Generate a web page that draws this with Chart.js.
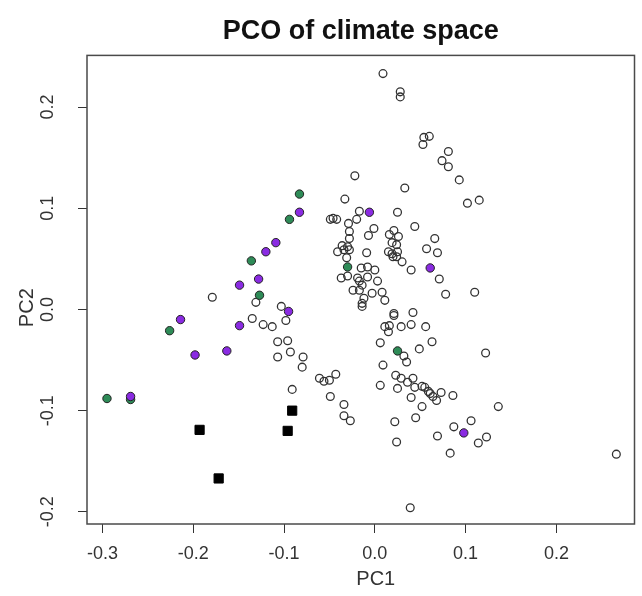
<!DOCTYPE html>
<html>
<head>
<meta charset="utf-8">
<script src="https://cdn.jsdelivr.net/npm/chart.js@4/dist/chart.umd.min.js"></script>
<style>
  html, body { margin: 0; padding: 0; background: #fff; }
  #wrap { width: 642px; height: 596px; position: relative; }
</style>
</head>
<body>
<div id="wrap"><canvas id="c" width="642" height="596"></canvas></div>
<script>
// ---- Data (PC1, PC2) ----
const openX = [0.009,0.028,0.028,0.054,0.060,0.053,0.081,0.074,0.081,0.093,-0.022,0.033,-0.033,0.102,0.115,-0.017,0.025,-0.049,-0.046,-0.042,-0.029,-0.020,-0.001,0.021,0.044,-0.007,-0.028,-0.028,0.016,0.026,0.019,0.024,0.066,-0.036,-0.030,-0.028,-0.034,-0.041,-0.009,0.015,0.019,0.025,0.020,0.024,0.057,0.069,0.030,0.040,-0.031,-0.015,-0.008,0.000,-0.037,-0.030,-0.019,-0.017,-0.008,0.003,0.071,0.110,0.078,-0.024,-0.017,-0.014,-0.003,0.008,0.011,-0.012,-0.014,-0.014,0.021,0.021,0.042,0.011,0.016,0.015,0.029,0.040,0.056,0.006,0.032,0.035,0.049,0.063,0.122,0.009,0.023,0.029,0.036,0.042,0.006,0.025,0.044,0.052,0.055,0.059,0.061,0.064,0.068,0.073,0.086,0.040,0.052,0.045,0.022,0.024,0.087,0.106,0.069,0.083,0.114,0.123,0.136,0.039,0.266,-0.179,-0.131,-0.103,-0.135,-0.123,-0.113,-0.098,-0.107,-0.096,-0.093,-0.107,-0.079,-0.080,-0.061,-0.056,-0.050,-0.043,-0.091,-0.049,-0.034,-0.034,-0.027];
const openY = [0.233,0.215,0.210,0.170,0.171,0.163,0.156,0.147,0.141,0.128,0.132,0.120,0.109,0.105,0.108,0.097,0.096,0.089,0.090,0.089,0.085,0.089,0.080,0.078,0.082,0.073,0.077,0.070,0.074,0.072,0.066,0.064,0.070,0.063,0.062,0.059,0.059,0.057,0.056,0.057,0.055,0.057,0.052,0.052,0.060,0.056,0.047,0.039,0.051,0.041,0.042,0.039,0.031,0.033,0.031,0.028,0.032,0.028,0.030,0.017,0.015,0.019,0.019,0.024,0.016,0.017,0.009,0.011,0.006,0.003,-0.004,-0.006,-0.003,-0.017,-0.016,-0.022,-0.017,-0.015,-0.017,-0.033,-0.046,-0.052,-0.039,-0.032,-0.043,-0.055,-0.065,-0.068,-0.072,-0.068,-0.075,-0.078,-0.077,-0.076,-0.077,-0.081,-0.083,-0.086,-0.090,-0.082,-0.085,-0.087,-0.096,-0.107,-0.111,-0.131,-0.116,-0.110,-0.125,-0.142,-0.132,-0.126,-0.096,-0.196,-0.143,0.012,0.007,0.003,-0.009,-0.015,-0.017,-0.011,-0.032,-0.031,-0.042,-0.047,-0.047,-0.057,-0.068,-0.071,-0.070,-0.064,-0.079,-0.086,-0.094,-0.105,-0.110];

const purpleX = [-0.083,-0.109,-0.120,-0.128,-0.149,-0.095,-0.214,-0.149,-0.198,-0.163,-0.269,-0.006,0.061,0.098];
const purpleY = [0.096,0.066,0.057,0.030,0.024,-0.002,-0.010,-0.016,-0.045,-0.041,-0.086,0.096,0.041,-0.122];

const greenX = [-0.083,-0.094,-0.136,-0.127,-0.226,-0.295,-0.269,-0.030,0.025];
const greenY = [0.114,0.089,0.048,0.014,-0.021,-0.088,-0.089,0.042,-0.041];

const squareX = [-0.091,-0.193,-0.096,-0.172];
const squareY = [-0.100,-0.119,-0.120,-0.167];

const xTickValues = [-0.3,-0.2,-0.1,0.0,0.1,0.2];
const yTickValues = [-0.2,-0.1,0.0,0.1,0.2];

const titleText = 'PCO of climate space';
const xTitle = 'PC1';
const yTitle = 'PC2';

function pts(xs, ys) { return xs.map((x, i) => ({x: x, y: ys[i]})); }
function fmt(v) { return Math.abs(v) < 1e-9 ? '0.0' : v.toFixed(1); }

const FONT = '"Liberation Sans", Arial, Helvetica, sans-serif';

// shift an axis title along its axis (the reference titles sit off-centre)
function shiftTitle(dx, dy) {
  return function (s) {
    if (s._titleShifted) return;
    s._titleShifted = true;
    const orig = s.drawTitle;
    s.drawTitle = function () {
      const ctx = this.ctx;
      ctx.save();
      ctx.translate(dx, dy);
      orig.apply(this, arguments);
      ctx.restore();
    };
  };
}

const boxPlugin = {
  id: 'box',
  afterDraw(chart) {
    const a = chart.chartArea, ctx = chart.ctx;
    ctx.save();
    ctx.strokeStyle = '#4a4a4a';
    ctx.lineWidth = 1.5;
    ctx.strokeRect(a.left, a.top, a.right - a.left, a.bottom - a.top);
    ctx.restore();
  }
};

new Chart(document.getElementById('c'), {
  type: 'scatter',
  data: {
    datasets: [
      { label: 'purple', data: pts(purpleX, purpleY), pointStyle: 'circle', pointRadius: 4.2, backgroundColor: '#8a2be2', borderColor: '#222', borderWidth: 1 },
      { label: 'green', data: pts(greenX, greenY), pointStyle: 'circle', pointRadius: 4.2, backgroundColor: '#2e8b57', borderColor: '#222', borderWidth: 1 },
      { label: 'squares', data: pts(squareX, squareY), pointStyle: 'rect', pointRadius: 6.5, backgroundColor: '#000', borderColor: '#000', borderWidth: 1 },
      { label: 'open', data: pts(openX, openY), pointStyle: 'circle', pointRadius: 3.9, backgroundColor: 'rgba(255,255,255,0)', borderColor: '#333', borderWidth: 1.3 }
    ]
  },
  options: {
    responsive: false,
    animation: false,
    events: [],
    layout: { padding: { left: 0, right: 3, top: 0, bottom: 0 } },
    plugins: {
      legend: { display: false },
      tooltip: { enabled: false },
      title: {
        display: true, text: titleText, fullSize: false,
        color: '#111', font: { family: FONT, size: 27, weight: 'bold' },
        padding: { top: 15, bottom: 8 }
      }
    },
    scales: {
      x: {
        type: 'linear', min: -0.317, max: 0.286,
        afterFit(s) { s.height = 72; },
        afterUpdate: shiftTitle(15, 0),
        afterBuildTicks(s) { s.ticks = xTickValues.map(v => ({value: v})); },
        ticks: { callback: v => fmt(v), color: '#333', font: { family: FONT, size: 18 }, padding: 10, maxRotation: 0, minRotation: 0, autoSkip: false },
        grid: { drawOnChartArea: false, drawTicks: true, tickLength: 9, color: '#333', lineWidth: 1 },
        border: { display: false },
        title: { display: true, text: xTitle, color: '#333', font: { family: FONT, size: 20 }, padding: { top: 0, bottom: 5 } }
      },
      y: {
        type: 'linear', min: -0.212, max: 0.251,
        afterFit(s) { s.width = 87; },
        afterUpdate: shiftTitle(0, 18),
        afterBuildTicks(s) { s.ticks = yTickValues.map(v => ({value: v})); },
        ticks: { callback: v => fmt(v), color: '#333', font: { family: FONT, size: 18 }, padding: 14, minRotation: 90, maxRotation: 90, crossAlign: 'center', autoSkip: false },
        grid: { drawOnChartArea: false, drawTicks: true, tickLength: 9, color: '#333', lineWidth: 1 },
        border: { display: false },
        title: { display: true, text: yTitle, color: '#333', font: { family: FONT, size: 20 }, padding: { top: 15, bottom: 0 } }
      }
    }
  },
  plugins: [boxPlugin]
});
</script>
</body>
</html>
